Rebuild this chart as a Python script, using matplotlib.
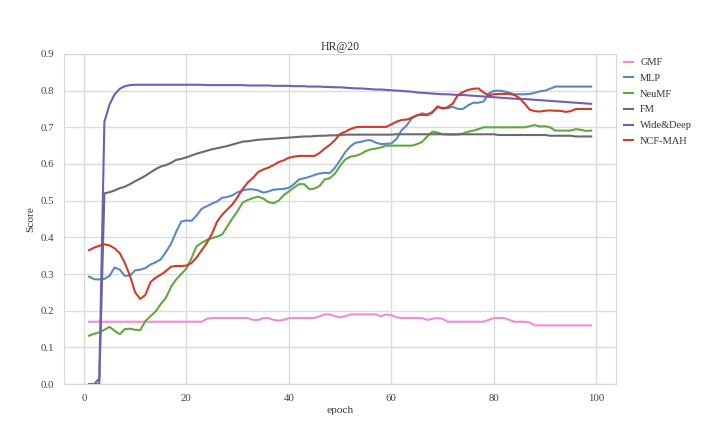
import matplotlib.pyplot as plt
import numpy as np

plt.rcParams['font.family'] = ['Liberation Serif', 'DejaVu Serif']

epochs = list(range(1, 100))

gmf = [0.17] * 23 + [0.178, 0.18, 0.18, 0.18, 0.18, 0.18, 0.18, 0.18, 0.18,
       0.175, 0.175, 0.18, 0.18, 0.175, 0.173, 0.175, 0.18, 0.18, 0.18, 0.18, 0.18, 0.18,
       0.185, 0.19, 0.19, 0.185, 0.182, 0.185, 0.19, 0.19, 0.19, 0.19, 0.19, 0.19,
       0.185, 0.19, 0.188, 0.182, 0.18, 0.18, 0.18, 0.18, 0.18, 0.175, 0.178, 0.18, 0.178,
       0.17, 0.17, 0.17, 0.17, 0.17, 0.17, 0.17, 0.17, 0.175, 0.18, 0.18, 0.18, 0.175,
       0.17, 0.17, 0.17, 0.168] + [0.16] * 12

mlp = [0.293, 0.286, 0.285, 0.287, 0.295, 0.318, 0.312, 0.295, 0.296, 0.31,
       0.312, 0.316, 0.326, 0.332, 0.34, 0.36, 0.382, 0.415, 0.443, 0.446,
       0.445, 0.46, 0.478, 0.485, 0.492, 0.498, 0.508, 0.51, 0.515, 0.523,
       0.528, 0.531, 0.531, 0.528, 0.522, 0.525, 0.53, 0.531, 0.532, 0.535,
       0.545, 0.558, 0.561, 0.565, 0.57, 0.574, 0.576, 0.575, 0.59, 0.61,
       0.632, 0.648, 0.658, 0.66, 0.664, 0.665, 0.658, 0.654, 0.655, 0.656,
       0.668, 0.692, 0.705, 0.725, 0.732, 0.738, 0.735, 0.742, 0.754, 0.753,
       0.752, 0.756, 0.75, 0.75, 0.76, 0.767, 0.767, 0.77, 0.792, 0.799,
       0.8, 0.798, 0.794, 0.79, 0.79, 0.79, 0.791, 0.794, 0.798, 0.8,
       0.805, 0.811, 0.811, 0.811, 0.811, 0.811, 0.811, 0.811, 0.811]

neumf = [0.132, 0.137, 0.141, 0.148, 0.156, 0.145, 0.136, 0.15, 0.151, 0.148,
         0.147, 0.172, 0.185, 0.198, 0.218, 0.235, 0.265, 0.285, 0.3, 0.315,
         0.343, 0.376, 0.385, 0.393, 0.398, 0.402, 0.408, 0.43, 0.452, 0.472,
         0.495, 0.502, 0.507, 0.511, 0.506, 0.496, 0.493, 0.5, 0.515, 0.525,
         0.536, 0.545, 0.545, 0.531, 0.533, 0.54, 0.558, 0.561, 0.574, 0.595,
         0.612, 0.62, 0.622, 0.627, 0.635, 0.64, 0.642, 0.645, 0.65, 0.65,
         0.65, 0.65, 0.65, 0.65, 0.654, 0.66, 0.675, 0.688, 0.686, 0.681,
         0.68, 0.68, 0.68, 0.683, 0.688, 0.691, 0.695, 0.7, 0.7, 0.7,
         0.7, 0.7, 0.7, 0.7, 0.7, 0.7, 0.703, 0.706, 0.702, 0.703,
         0.7, 0.691, 0.691, 0.691, 0.691, 0.695, 0.693, 0.69, 0.691]

fm = [0.0, 0.0, 0.0, 0.52, 0.523, 0.528, 0.534, 0.538, 0.545, 0.553,
      0.56, 0.568, 0.577, 0.586, 0.593, 0.597, 0.603, 0.611, 0.614, 0.618,
      0.623, 0.628, 0.632, 0.636, 0.64, 0.643, 0.646, 0.649, 0.653, 0.657,
      0.661, 0.662, 0.664, 0.666, 0.667, 0.668, 0.669, 0.67, 0.671, 0.672,
      0.673, 0.674, 0.675, 0.675, 0.676, 0.677, 0.677, 0.678, 0.678, 0.679,
      0.68, 0.68, 0.68, 0.68, 0.68, 0.68, 0.68, 0.68, 0.68, 0.68,
      0.681, 0.681, 0.681, 0.681, 0.681, 0.681, 0.681, 0.681, 0.681, 0.681,
      0.681, 0.681, 0.681, 0.681, 0.681, 0.681, 0.681, 0.681, 0.681, 0.681,
      0.679, 0.679, 0.679, 0.679, 0.679, 0.679, 0.679, 0.679, 0.679, 0.679,
      0.677, 0.677, 0.677, 0.677, 0.677, 0.675, 0.675, 0.675, 0.675]

wide_deep = [0.0, 0.0, 0.015, 0.715, 0.762, 0.79, 0.805, 0.812, 0.815, 0.816,
             0.816, 0.816, 0.816, 0.816, 0.816, 0.816, 0.816, 0.816, 0.816, 0.816,
             0.816, 0.816, 0.816, 0.815, 0.815, 0.815, 0.815, 0.815, 0.815, 0.815,
             0.815, 0.814, 0.814, 0.814, 0.814, 0.814, 0.813, 0.813, 0.813, 0.813,
             0.812, 0.812, 0.812, 0.811, 0.811, 0.811, 0.810, 0.810, 0.809, 0.809,
             0.808, 0.807, 0.806, 0.806, 0.805, 0.804, 0.803, 0.803, 0.802, 0.801,
             0.800, 0.799, 0.798, 0.797, 0.795, 0.794, 0.793, 0.792, 0.791, 0.790,
             0.790, 0.789, 0.788, 0.788, 0.787, 0.786, 0.785, 0.784, 0.783, 0.782,
             0.781, 0.780, 0.779, 0.778, 0.777, 0.777, 0.776, 0.775, 0.774, 0.773,
             0.772, 0.771, 0.770, 0.769, 0.768, 0.767, 0.766, 0.765, 0.764]

ncf_mah = [0.365, 0.372, 0.377, 0.381, 0.378, 0.37, 0.357, 0.33, 0.295, 0.25,
           0.232, 0.243, 0.278, 0.29, 0.298, 0.308, 0.32, 0.322, 0.322, 0.323,
           0.33, 0.345, 0.365, 0.385, 0.41, 0.443, 0.462, 0.476, 0.49, 0.51,
           0.532, 0.55, 0.562, 0.578, 0.585, 0.59, 0.597, 0.605, 0.61, 0.617,
           0.62, 0.622, 0.622, 0.622, 0.622, 0.63, 0.642, 0.652, 0.665, 0.682,
           0.688, 0.695, 0.7, 0.701, 0.701, 0.701, 0.701, 0.701, 0.701, 0.708,
           0.715, 0.72, 0.721, 0.726, 0.733, 0.734, 0.733, 0.74, 0.757, 0.751,
           0.755, 0.765, 0.788, 0.796, 0.802, 0.805, 0.806, 0.795, 0.787, 0.79,
           0.791, 0.791, 0.791, 0.788, 0.78, 0.765, 0.748, 0.744, 0.743, 0.745,
           0.746, 0.745, 0.745, 0.742, 0.744, 0.75, 0.75, 0.75, 0.75]

series = [
    ('GMF', gmf, '#f08cd6'),
    ('MLP', mlp, '#5b87c5'),
    ('NeuMF', neumf, '#62a83c'),
    ('FM', fm, '#6b6b6b'),
    ('Wide&Deep', wide_deep, '#6c5fbe'),
    ('NCF-MAH', ncf_mah, '#d03b2a'),
]

fig = plt.figure(figsize=(7.1, 4.42), dpi=100)
ax = fig.add_axes([0.090, 0.131, 0.778, 0.747])

for name, vals, c in series:
    ax.plot(epochs, vals, color=c, linewidth=1.5, label=name)

ax.set_ylim(0, 0.9)
ax.set_yticks(np.arange(0, 0.91, 0.1))
ax.set_yticklabels([f'{v:.1f}' for v in np.arange(0, 0.91, 0.1)])
ax.set_xticks([0, 20, 40, 60, 80, 100])
ax.grid(True, color='#dcdcdc', linewidth=1)
ax.set_axisbelow(True)
for s in ax.spines.values():
    s.set_color('#d8d8d8')
ax.tick_params(length=0, labelsize=7.8, colors='#444444', pad=7)

ax.set_title('HR@20', fontsize=8.5, color='#333333', pad=3)
ax.set_xlabel('epoch', fontsize=8.2, color='#333333', labelpad=2)
ax.set_ylabel('Score', fontsize=8.2, color='#333333', labelpad=4)

ax.legend(loc='upper left', bbox_to_anchor=(1.0, 1.01), frameon=False,
          fontsize=7.5, handlelength=0.9, labelspacing=0.62, handletextpad=0.7,
          borderaxespad=0.3, labelcolor='#333333')

fig.savefig('out.png', dpi=100)
